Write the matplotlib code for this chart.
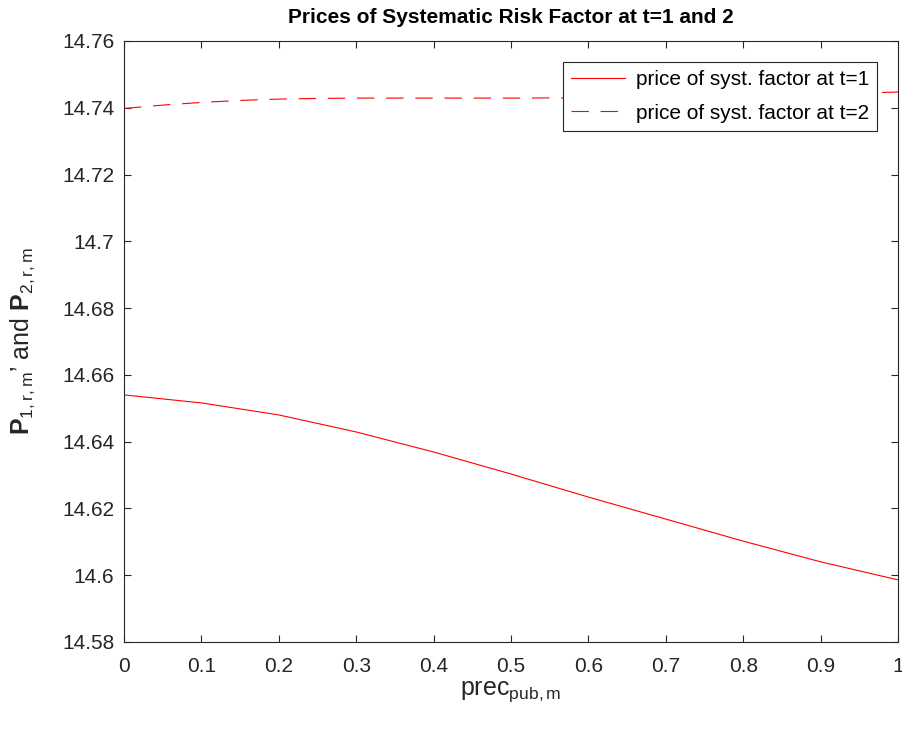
import numpy as np
import matplotlib
matplotlib.use("Agg")
import matplotlib.pyplot as plt

plt.rcParams["font.family"] = ["Liberation Sans", "DejaVu Sans"]
plt.rcParams["mathtext.fontset"] = "custom"
plt.rcParams["mathtext.rm"] = "Liberation Sans"
plt.rcParams["mathtext.it"] = "Liberation Sans:italic"
plt.rcParams["mathtext.bf"] = "Liberation Sans:bold"
plt.rcParams["lines.scale_dashes"] = False

# values
x1 = [0, 0.1, 0.2, 0.3, 0.4, 0.5, 0.6, 0.7, 0.8, 0.9, 1.0]
price_t1 = [14.6540, 14.6516, 14.6480, 14.6429, 14.6369, 14.6303,
            14.6234, 14.6168, 14.6102, 14.6040, 14.5986]

x2 = [0, 0.05, 0.1, 0.15, 0.2, 0.25, 0.3, 0.4, 0.5, 0.6, 0.7, 0.8, 0.9, 1.0]
price_t2 = [14.7398, 14.7408, 14.7416, 14.7422, 14.7426, 14.7428, 14.7429,
            14.7429, 14.7429, 14.7430, 14.7433, 14.7437, 14.7442, 14.7447]

xticks = [0, 0.1, 0.2, 0.3, 0.4, 0.5, 0.6, 0.7, 0.8, 0.9, 1]
yticks = [14.58, 14.6, 14.62, 14.64, 14.66, 14.68, 14.7, 14.72, 14.74, 14.76]

fig = plt.figure(figsize=(9.03, 7.32), dpi=100)
ax = fig.add_axes([0.1373, 0.123, 0.8572, 0.821])

ax.plot(x1, price_t1, color="red", lw=0.8, label="price of syst. factor at t=1")
ax.plot(x2, price_t2, color="red", lw=0.8, dashes=(12.5, 8.5),
        label="price of syst. factor at t=2")

ax.set_xlim(0, 1)
ax.set_ylim(14.58, 14.76)
ax.set_xticks(xticks)
ax.set_xticklabels(["%g" % v for v in xticks])
ax.set_yticks(yticks)
ax.set_yticklabels(["%g" % v for v in yticks])

gray = (0.15, 0.15, 0.15)
for s in ax.spines.values():
    s.set_color(gray)
    s.set_linewidth(0.8)
ax.tick_params(direction="in", length=5, width=0.8, colors=gray,
               labelsize=15, top=True, right=True)
ax.tick_params(axis="x", pad=11)
ax.tick_params(axis="y", pad=7)

ax.set_title("Prices of Systematic Risk Factor at t=1 and 2",
             fontsize=15, fontweight="bold", pad=13)
ax.set_xlabel(r"prec$_{\mathrm{pub,m}}$", fontsize=18, color=gray, labelpad=2)
ax.set_ylabel(r"$\mathbf{P}_{\mathrm{1,r,m}}$’ and $\mathbf{P}_{\mathrm{2,r,m}}$",
              fontsize=18, color=gray, labelpad=18)

leg = ax.legend(loc="upper right", fontsize=15, fancybox=False,
                edgecolor=gray, framealpha=1, handlelength=2.6,
                borderaxespad=1.0, borderpad=0.4, labelspacing=0.7,
                handletextpad=0.5)
leg.get_frame().set_linewidth(0.8)

fig.savefig("out.png", dpi=100)
